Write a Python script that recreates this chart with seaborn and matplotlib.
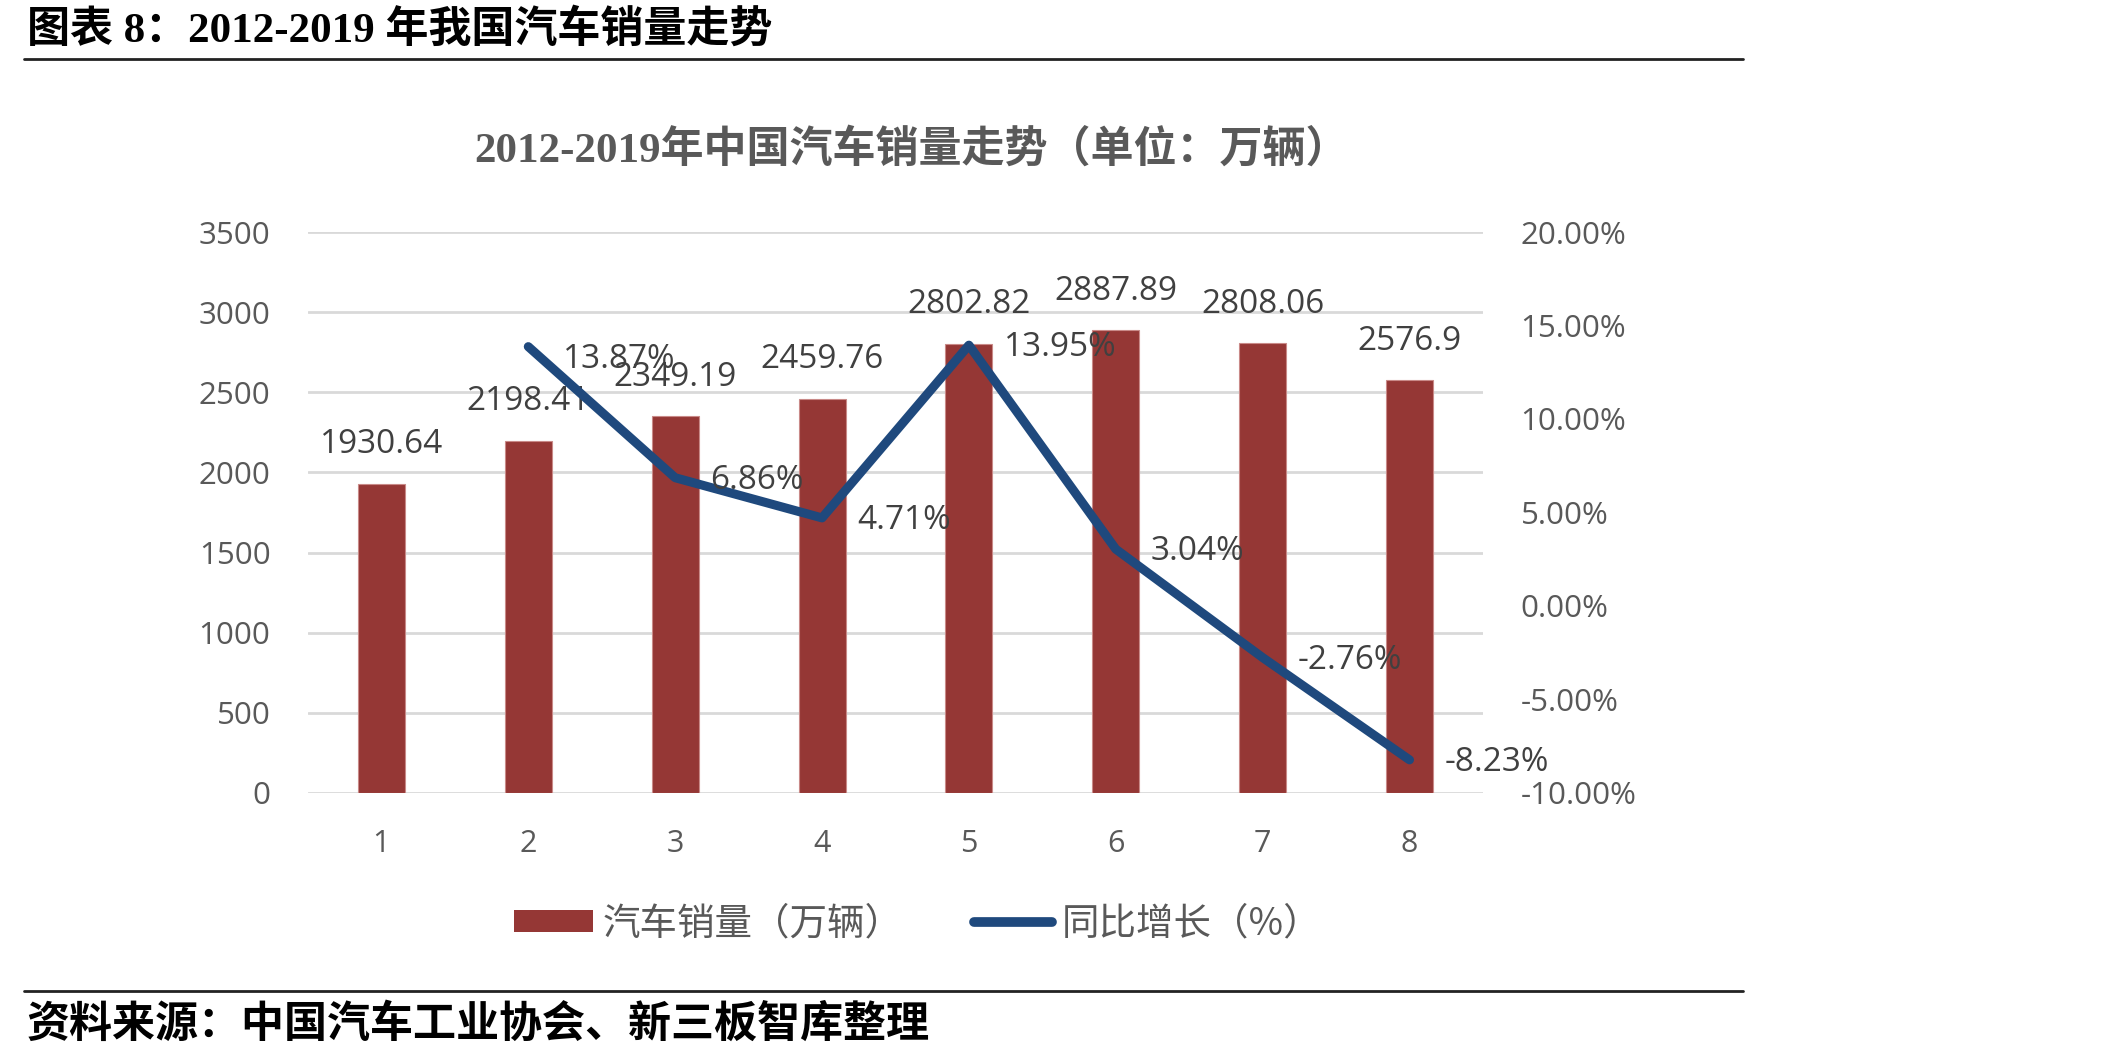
import matplotlib
matplotlib.use("Agg")
import matplotlib.pyplot as plt
import seaborn as sns
import pandas as pd
import numpy as np
from matplotlib.lines import Line2D
from matplotlib.patches import Patch

# ---------------- data ----------------
categories = ["1", "2", "3", "4", "5", "6", "7", "8"]
sales = [1930.64, 2198.41, 2349.19, 2459.76, 2802.82, 2887.89, 2808.06, 2576.9]
growth_categories = ["2", "3", "4", "5", "6", "7", "8"]
growth = [13.87, 6.86, 4.71, 13.95, 3.04, -2.76, -8.23]
sales_labels = ["1930.64", "2198.41", "2349.19", "2459.76", "2802.82", "2887.89", "2808.06", "2576.9"]
growth_labels = ["13.87%", "6.86%", "4.71%", "13.95%", "3.04%", "-2.76%", "-8.23%"]
left_ticks = [0, 500, 1000, 1500, 2000, 2500, 3000, 3500]
right_ticks = [-10, -5, 0, 5, 10, 15, 20]

header_text = "图表 8：2012-2019 年我国汽车销量走势"
title_text = "2012-2019年中国汽车销量走势（单位：万辆）"
source_text = "资料来源：中国汽车工业协会、新三板智库整理"
bar_legend = "汽车销量（万辆）"
line_legend = "同比增长（%）"

BAR_COLOR = "#953735"
LINE_COLOR = "#1F497D"
TICK_COLOR = "#595959"
LABEL_COLOR = "#404040"
GRID_COLOR = "#D9D9D9"

sns.set_theme(style="white")
plt.rcParams["font.family"] = ["Open Sans", "Noto Sans CJK SC", "DejaVu Sans"]
plt.rcParams["axes.unicode_minus"] = False

fig = plt.figure(figsize=(21.05, 10.57), dpi=100)
ax = fig.add_axes([0.1463, 0.2498, 0.7045 - 0.1463, 0.7805 - 0.2498])

df = pd.DataFrame({"cat": categories, "sales": sales})
sns.barplot(data=df, x="cat", y="sales", order=categories, color=BAR_COLOR,
            saturation=1, width=0.32, edgecolor="#C98A88", linewidth=0.8, ax=ax)

ax.set_ylim(0, 3500)
ax.set_xlim(-0.5, len(categories) - 0.5)
ax.set_yticks(left_ticks)
ax.set_yticklabels([str(t) for t in left_ticks])
ax.yaxis.grid(True, color=GRID_COLOR, linewidth=2)
ax.set_axisbelow(True)
for s in ax.spines.values():
    s.set_visible(False)
ax.set_xlabel("")
ax.set_ylabel("")
ax.tick_params(axis="y", length=0, pad=27, labelsize=22.5, labelcolor=TICK_COLOR)
ax.tick_params(axis="x", length=0, pad=26, labelsize=22, labelcolor=TICK_COLOR)
for lab in ax.get_xticklabels():
    lab.set_fontfamily(["Liberation Sans Narrow", "DejaVu Sans Condensed", "Open Sans"])

# bar labels
for i, (v, t) in enumerate(zip(sales, sales_labels)):
    ax.annotate(t, xy=(i, v), xytext=(0, 28), textcoords="offset points",
                ha="center", va="center", fontsize=24, color=LABEL_COLOR)

# line on secondary axis
ax2 = ax.twinx()
pos = [categories.index(c) for c in growth_categories]
sns.lineplot(x=pos, y=growth, ax=ax2, color=LINE_COLOR, linewidth=6.5,
             solid_capstyle="round", solid_joinstyle="round")
ax2.set_ylim(-10, 20)
ax2.set_xlim(-0.5, len(categories) - 0.5)
ax2.set_yticks(right_ticks)
ax2.set_yticklabels([f"{t:.2f}%" for t in right_ticks])
ax2.tick_params(axis="y", length=0, pad=27, labelsize=22.5, labelcolor=TICK_COLOR)
ax2.grid(False)
for s in ax2.spines.values():
    s.set_visible(False)
ax2.set_ylabel("")

for k, (p, v, t) in enumerate(zip(pos, growth, growth_labels)):
    dy = -9 if k == 0 else -2
    ax2.annotate(t, xy=(p, v), xytext=(25, dy), textcoords="offset points",
                 ha="left", va="center", fontsize=24, color=LABEL_COLOR)

# legend
handles = [Patch(facecolor=BAR_COLOR, edgecolor="none"),
           Line2D([0], [0], color=LINE_COLOR, linewidth=7, solid_capstyle="round")]
leg = fig.legend(handles, [bar_legend, line_legend], loc="center",
                 bbox_to_anchor=(0.436, 0.126), ncol=2, frameon=False,
                 fontsize=27, handlelength=2.1, handleheight=0.55,
                 handletextpad=0.25, columnspacing=1.9)
for txt in leg.get_texts():
    txt.set_color(TICK_COLOR)
    txt.set_fontfamily(["Noto Sans CJK SC", "DejaVu Sans"])

# title
fig.text(0.433, 0.858, title_text, ha="center", va="center", fontsize=31,
         color=TICK_COLOR, family=["Liberation Serif", "Noto Sans CJK SC"], weight="bold")

# header & footer
fig.text(0.0128, 0.9716, header_text, ha="left", va="center", fontsize=31,
         color="black", family=["Liberation Serif", "Noto Sans CJK SC"], weight="bold")
fig.text(0.0128, 0.0312, source_text, ha="left", va="center", fontsize=31,
         color="black", family=["Noto Sans CJK SC", "DejaVu Sans"], weight="bold")
fig.add_artist(Line2D([0.0114, 0.828], [0.9442, 0.9442], transform=fig.transFigure,
                      color="#222222", linewidth=2))
fig.add_artist(Line2D([0.0114, 0.828], [0.0624, 0.0624], transform=fig.transFigure,
                      color="#222222", linewidth=2))

fig.savefig("out.png", dpi=100, facecolor="white")
